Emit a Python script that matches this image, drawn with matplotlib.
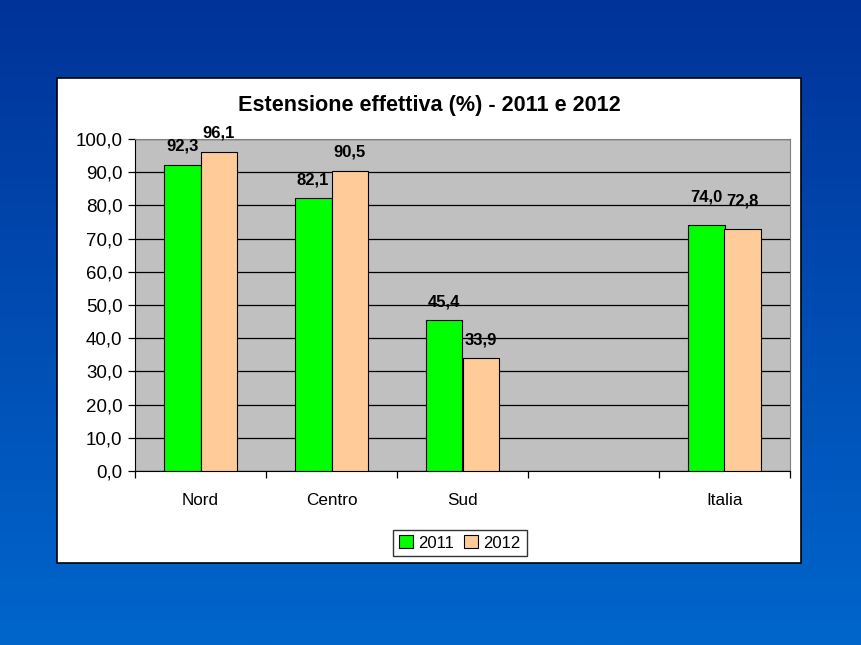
import numpy as np
import matplotlib
matplotlib.use("Agg")
import matplotlib.pyplot as plt
from matplotlib.patches import Rectangle

plt.rcParams['font.family'] = ['Liberation Sans', 'DejaVu Sans']

categories = ["Nord", "Centro", "Sud", "", "Italia"]
v2011 = [92.3, 82.1, 45.4, np.nan, 74.0]
v2012 = [96.1, 90.5, 33.9, np.nan, 72.8]
labels2011 = ["92,3", "82,1", "45,4", "", "74,0"]
labels2012 = ["96,1", "90,5", "33,9", "", "72,8"]
label_offsets = [8, 8, 8, 8, 15]
yticks = np.arange(0, 101, 10)
title = "Estensione effettiva (%) - 2011 e 2012"

fig = plt.figure(figsize=(8.61, 6.45), dpi=100)

# background gradient
bg = fig.add_axes([0, 0, 1, 1], zorder=-10)
grad = np.linspace(0, 1, 256).reshape(-1, 1)
top = np.array([0, 51, 153]) / 255
bot = np.array([0, 102, 204]) / 255
img = top[None, None, :] * (1 - grad[:, :, None]) + bot[None, None, :] * grad[:, :, None]
bg.imshow(img, aspect='auto', extent=[0, 1, 0, 1])
bg.set_axis_off()

# white panel
fig.patches.append(Rectangle((57/861, 1-563/645), 744/861, 485/645,
                             transform=fig.transFigure, facecolor='white',
                             edgecolor='black', linewidth=1.2, zorder=-5))

ax = fig.add_axes([135/861, 1-471/645, 655/861, 332/645])
ax.set_facecolor('#C0C0C0')
x = np.arange(len(categories))
w = 0.28
ax.bar(x - w/2, v2011, w, color='#00FF00', edgecolor='black', linewidth=0.8, label='2011', zorder=3)
ax.bar(x + w/2, v2012, w, color='#FFCC99', edgecolor='black', linewidth=0.8, label='2012', zorder=3)

for i in range(len(categories)):
    if labels2011[i]:
        ax.annotate(labels2011[i], (x[i] - w/2, v2011[i]), xytext=(0, label_offsets[i]), textcoords='offset points',
                    ha='center', va='bottom', fontsize=12, fontweight='bold')
        ax.annotate(labels2012[i], (x[i] + w/2, v2012[i]), xytext=(0, label_offsets[i]), textcoords='offset points',
                    ha='center', va='bottom', fontsize=12, fontweight='bold')

ax.set_xlim(-0.5, len(categories) - 0.5)
ax.set_ylim(0, 100)
ax.set_yticks(yticks)
ax.set_yticklabels([f"{t:.1f}".replace('.', ',') for t in yticks], fontsize=13.5)
ax.yaxis.grid(True, color='black', linewidth=0.9, zorder=1)
ax.set_axisbelow(True)
ax.tick_params(axis='y', direction='out', length=5, width=0.9, pad=4)
ax.set_xticks(np.arange(len(categories) + 1) - 0.5, minor=False)
ax.set_xticklabels([])
ax.set_xticks(x, minor=True)
ax.set_xticklabels(categories, minor=True, fontsize=12.3)
ax.tick_params(axis='x', which='major', direction='out', length=5, width=0.9)
ax.tick_params(axis='x', which='minor', length=0, pad=16)
for s in ['top', 'right']:
    ax.spines[s].set_color('#808080')
for s in ['left', 'bottom']:
    ax.spines[s].set_color('black')

fig.text(429/861, 1-105/645, title, ha='center', va='center', fontsize=15.6, fontweight='bold')

leg = ax.legend(loc='center', bbox_to_anchor=(460/861, 1-543/645), bbox_transform=fig.transFigure,
                ncol=2, frameon=True, fancybox=False, edgecolor='black', fontsize=12,
                handlelength=0.8, handleheight=0.8, handletextpad=0.35, columnspacing=0.6,
                borderpad=0.35, borderaxespad=0.0)
leg.get_frame().set_linewidth(1.0)

fig.savefig('out.png', dpi=100)
